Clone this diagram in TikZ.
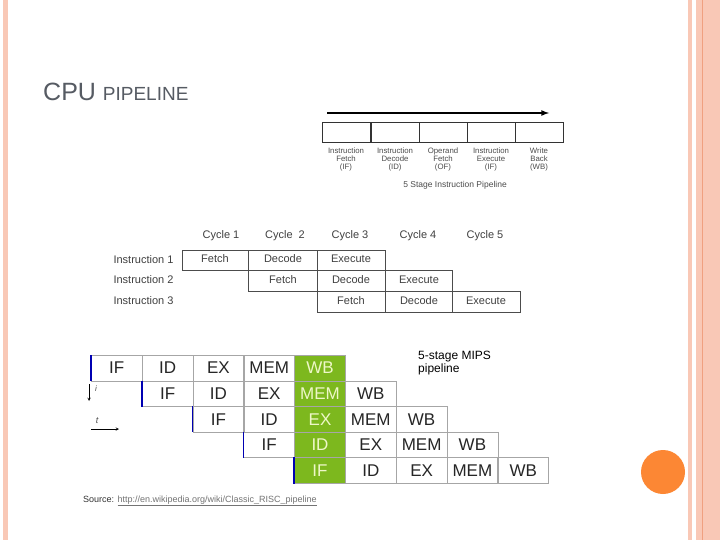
\documentclass[tikz,border=0pt]{standalone}
\usepackage{fontspec}
\setmainfont{Liberation Sans}
\begin{document}
\begin{tikzpicture}[x=1pt,y=-1pt,
  sbox/.style={draw=black!80, line width=1pt},
  slab/.style={font=\fontsize{7.8}{8.3}\selectfont, text=black!70, align=center},
  tbox/.style={draw=black!70, line width=0.6pt},
  tlab/.style={font=\fontsize{11}{12}\selectfont, text=black!75},
  mcell/.style={draw=black!35, line width=0.6pt, minimum width=51pt, minimum height=25.6pt, inner sep=0pt, font=\fontsize{17}{18}\selectfont, text=black!85},
  gcell/.style={mcell, fill=mgreen, text=mtext},
]
\definecolor{mgreen}{HTML}{7DB81E}
\definecolor{mtext}{HTML}{EEF7C8}
\definecolor{pal}{HTML}{F9C8B6}
\definecolor{pdark}{HTML}{F0A080}
\definecolor{orng}{HTML}{FC8734}
\definecolor{ttl}{HTML}{565B63}
\useasboundingbox (0,0) rectangle (720,540);
\fill[white] (0,0) rectangle (720,540);
% slide decorations
\fill[pal] (3,0) rectangle (8,540);
\fill[pal] (688,0) rectangle (692,540);
\fill[pal] (696,0) rectangle (720,540);
\draw[pdark, line width=0.8pt] (702.5,0) -- (702.5,540);
\fill[orng] (663,472) circle (22);
% title
\node[anchor=base west, inner sep=0, text=ttl] (title) at (43,101) {\fontsize{25}{26}\selectfont CPU \fontsize{19}{20}\selectfont PIPELINE};
% top pipeline
\coordinate (a1) at (327,113); \coordinate (a2) at (549,113);
\draw[line width=1.6pt, -latex] (a1) -- (a2);
\foreach \x/\n/\t in {322/s1/{Instruction\\Fetch\\(IF)},371/s2/{Instruction\\Decode\\(ID)},419/s3/{Operand\\Fetch\\(OF)},467/s4/{Instruction\\Execute\\(IF)},515/s5/{Write\\Back\\(WB)}}{
  \draw[sbox] (\x,123) rectangle ++(48.2,20);
  \node[slab, anchor=north] (\n) at (\x+24,144) {\t};
}
\node[slab, anchor=center, font=\fontsize{8.5}{9}\selectfont] (cap) at (455,185) {5 Stage Instruction Pipeline};
% middle table
\foreach \x/\c in {221/{Cycle 1},285/{Cycle\ \ 2},350/{Cycle 3},418/{Cycle 4},485/{Cycle 5}}
  \node[tlab] at (\x,236) {\c};
\node[tlab, anchor=east] (i1) at (177,260) {Instruction 1};
\node[tlab, anchor=east] (i2) at (177,280) {Instruction 2};
\node[tlab, anchor=east] (i3) at (177,301) {Instruction 3};
\draw[tbox] (182,250) rectangle (248,270); \draw[tbox] (248,250) rectangle (317,270); \draw[tbox] (317,250) rectangle (385,270);
\draw[tbox] (248,270) rectangle (317,291); \draw[tbox] (317,270) rectangle (385,291); \draw[tbox] (385,270) rectangle (452,291);
\draw[tbox] (317,291) rectangle (385,312); \draw[tbox] (385,291) rectangle (452,312); \draw[tbox] (452,291) rectangle (520,312);
\node[tlab] at (215,259) {Fetch}; \node[tlab] at (283,259) {Decode}; \node[tlab] at (351,259) {Execute};
\node[tlab] at (283,280) {Fetch}; \node[tlab] at (351,280) {Decode}; \node[tlab] at (419,280) {Execute};
\node[tlab] at (351,301) {Fetch}; \node[tlab] at (419,301) {Decode}; \node[tlab] at (486,301) {Execute};
% MIPS
\foreach \r in {0,...,4}{
  \foreach \s [count=\k from 0] in {IF,ID,EX,MEM,WB}{
    \pgfmathtruncatemacro{\col}{\r+\k}
    \ifnum\col=4
      \node[gcell, anchor=north west] (m\r\k) at (91+50.8*\col,355+25.6*\r) {\s};
    \else
      \node[mcell, anchor=north west] (m\r\k) at (91+50.8*\col,355+25.6*\r) {\s};
    \fi
  }
}
\foreach \r in {0,...,4}
  \draw[blue!70!black, line width=1.5pt] (m\r0.north west) -- (m\r0.south west);
\node[font=\fontsize{12}{13}\selectfont, align=left, anchor=north west, inner sep=0] (mips) at (418,351) {5-stage MIPS\\pipeline};
\coordinate (d1) at (89,384); \coordinate (d2) at (89,401);
\draw[-stealth, line width=0.5pt] (d1) -- (d2);
\node[font=\itshape\fontsize{8}{8}\selectfont, text=black!70] at (96,389) {i};
\node[font=\itshape\fontsize{9}{9}\selectfont, text=black!70] at (97,421) {t};
\coordinate (t1) at (91,429); \coordinate (t2) at (119,429);
\draw[-stealth, line width=0.5pt] (t1) -- (t2);
\node[anchor=west, inner sep=0, font=\fontsize{9}{10}\selectfont, text=black!80] (src) at (83,501) {Source: \textcolor{black!55}{\underline{http://en.wikipedia.org/wiki/Classic\_RISC\_pipeline}}};
\end{tikzpicture}
\end{document}
